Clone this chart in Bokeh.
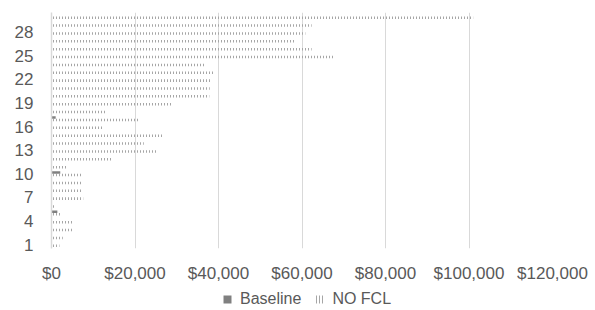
from bokeh.plotting import figure
from bokeh.layouts import column
from bokeh.models import (ColumnDataSource, Range1d, FixedTicker, NumeralTickFormatter,
                          Legend, LegendItem)
from bokeh.transform import dodge
from bokeh.embed import file_html
from bokeh.resources import INLINE

categories = list(range(1, 31))
baseline = [0, 0, 0, 0, 1400, 0, 0, 0, 0, 2100, 0, 0, 0, 0, 0,
            0, 1000, 0, 0, 0, 0, 0, 0, 0, 0, 0, 0, 0, 0, 0]
no_fcl = [1900, 2700, 5100, 5200, 2300, 800, 7600, 7200, 7200, 7200,
          3900, 14400, 25300, 22100, 26900, 12400, 20900, 12900, 29100, 37800,
          37900, 38200, 38700, 36900, 67500, 62300, 58400, 60800, 62300, 101000]
y_ticks = [1, 4, 7, 10, 13, 16, 19, 22, 25, 28]
x_ticks = [0, 20000, 40000, 60000, 80000, 100000, 120000]
series_names = ["Baseline", "NO FCL"]

src = ColumnDataSource(dict(cat=categories, baseline=baseline, nofcl=no_fcl))

BL_STYLE = dict(fill_color="#808080", line_color=None)
NF_STYLE = dict(fill_color=None, line_color=None, hatch_pattern="vertical_line",
                hatch_color="#a6a6a6", hatch_scale=3, hatch_weight=1)

p = figure(width=595, height=287, output_backend="svg", toolbar_location=None,
           x_range=Range1d(0, 120000), y_range=Range1d(0.5, 30.5),
           min_border_left=51, min_border_right=43, min_border_top=12,
           min_border_bottom=39)
p.outline_line_color = None
p.background_fill_color = "white"

p.hbar(y=dodge("cat", -0.16, range=p.y_range), right="nofcl", left=0,
       height=0.32, source=src, **NF_STYLE)
p.hbar(y=dodge("cat", 0.16, range=p.y_range), right="baseline", left=0,
       height=0.32, source=src, **BL_STYLE)

# axes
p.xaxis.ticker = FixedTicker(ticks=x_ticks)
p.xaxis.formatter = NumeralTickFormatter(format="$0,0")
p.xaxis.axis_line_color = None
p.xaxis.major_tick_line_color = None
p.xaxis.minor_tick_line_color = None
p.xaxis.major_tick_out = 0
p.xaxis.major_tick_in = 0
p.xaxis.major_label_standoff = 15
p.xaxis.major_label_text_font = "Liberation Sans"
p.xaxis.major_label_text_font_size = "17px"
p.xaxis.major_label_text_color = "#595959"

p.yaxis.ticker = FixedTicker(ticks=y_ticks)
p.yaxis.axis_line_color = "#d9d9d9"
p.yaxis.axis_line_width = 1.5
p.yaxis.major_tick_line_color = None
p.yaxis.minor_tick_line_color = None
p.yaxis.major_tick_out = 0
p.yaxis.major_tick_in = 0
p.yaxis.major_label_standoff = 18
p.yaxis.major_label_text_font = "Liberation Sans"
p.yaxis.major_label_text_font_size = "17px"
p.yaxis.major_label_text_color = "#595959"

p.xgrid.ticker = FixedTicker(ticks=x_ticks)
p.xgrid.grid_line_color = "#d9d9d9"
p.xgrid.grid_line_width = 1
p.ygrid.grid_line_color = None

# legend strip (separate small figure, same glyph styles)
lg = figure(width=595, height=23, output_backend="svg", toolbar_location=None,
            x_range=Range1d(0, 1), y_range=Range1d(0, 1),
            x_axis_type=None, y_axis_type=None,
            min_border=0, min_border_left=0, min_border_right=0,
            min_border_top=0, min_border_bottom=0)
lg.outline_line_color = None
lg.grid.visible = False
# one out-of-view, zero-length bar so the legend glyph styles are defined
key_src = ColumnDataSource(dict(y=[-5], right=[0]))
lr_bl = lg.hbar(y="y", right="right", left=0, height=0.1, source=key_src, **BL_STYLE)
lr_nf = lg.hbar(y="y", right="right", left=0, height=0.1, source=key_src, **NF_STYLE)

legend = Legend(items=[LegendItem(label=series_names[0], renderers=[lr_bl]),
                       LegendItem(label=series_names[1], renderers=[lr_nf])],
                orientation="horizontal", location=(171, 2))
legend.glyph_width = 10
legend.glyph_height = 10
legend.label_standoff = 8
legend.spacing = 13
legend.padding = 0
legend.margin = 0
legend.border_line_color = None
legend.background_fill_alpha = 0
legend.label_text_font = "Liberation Sans"
legend.label_text_font_size = "16px"
legend.label_text_color = "#595959"
lg.add_layout(legend)

layout = column(p, lg, spacing=0)
open("out.html", "w").write(file_html(layout, INLINE))
